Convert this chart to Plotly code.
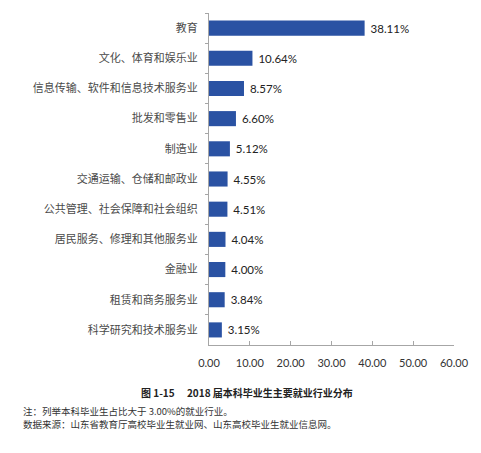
import plotly.graph_objects as go

# Industries (top to bottom) and share of graduates (%)
industries = ["教育", "文化、体育和娱乐业", "信息传输、软件和信息技术服务业", "批发和零售业",
              "制造业", "交通运输、仓储和邮政业", "公共管理、社会保障和社会组织",
              "居民服务、修理和其他服务业", "金融业", "租赁和商务服务业", "科学研究和技术服务业"]
shares = [38.11, 10.64, 8.57, 6.60, 5.12, 4.55, 4.51, 4.04, 4.00, 3.84, 3.15]

x_ticks = [0, 10, 20, 30, 40, 50, 60]
x_tick_labels = ["0.00", "10.00", "20.00", "30.00", "40.00", "50.00", "60.00"]

caption = "图 1-15　 2018 届本科毕业生主要就业行业分布"
note_lines = ["注：列举本科毕业生占比大于 3.00%的就业行业。",
              "数据来源：山东省教育厅高校毕业生就业网、山东高校毕业生就业信息网。"]

cjk = "Noto Sans CJK SC"
num_font = "Lato, " + cjk

fig = go.Figure()
fig.add_trace(go.Bar(
    y=industries, x=shares, orientation="h",
    width=0.5,
    marker=dict(color="#2A52A3", line=dict(width=0)),
    text=[" %.2f%%" % v for v in shares],
    textposition="outside",
    textfont=dict(family=num_font, size=11.5, color="#222222"),
    cliponaxis=False,
))

fig.update_layout(
    width=481, height=453,
    margin=dict(l=209, r=23, t=13, b=108),
    paper_bgcolor="white", plot_bgcolor="white",
    showlegend=False,
    xaxis=dict(range=[0, 60], tickvals=x_ticks, ticktext=x_tick_labels,
               showgrid=False, zeroline=False,
               showline=True, linecolor="#a6a6a6", linewidth=1,
               ticks="inside", ticklen=4, tickcolor="#a6a6a6",
               ticklabelstandoff=8,
               tickfont=dict(family=num_font, size=11, color="#333333")),
    yaxis=dict(autorange="reversed", showgrid=False, zeroline=False,
               showline=True, linecolor="#a6a6a6", linewidth=1,
               ticks="outside", ticklen=3, tickcolor="#a6a6a6",
               tickson="boundaries", ticklabelstandoff=8,
               tickfont=dict(family=cjk, size=11, color="#4a4a4a")),
)

fig.add_annotation(text="<b>" + caption + "</b>", xref="paper", yref="paper",
                   x=(248 - 209) / 249, y=-(392 - 345) / 332,
                   xanchor="center", yanchor="middle", showarrow=False,
                   font=dict(family=cjk, size=10, color="#222222"))
for i, line in enumerate(note_lines):
    fig.add_annotation(text=line, xref="paper", yref="paper",
                       x=(18 - 209) / 249, y=-(410.5 + 13 * i - 345) / 332,
                       xanchor="left", yanchor="middle", showarrow=False,
                       font=dict(family=cjk, size=9.5, color="#333333"))

fig.write_html("out.html", config={"displayModeBar": False},
               post_script="document.body.style.margin='0';")
